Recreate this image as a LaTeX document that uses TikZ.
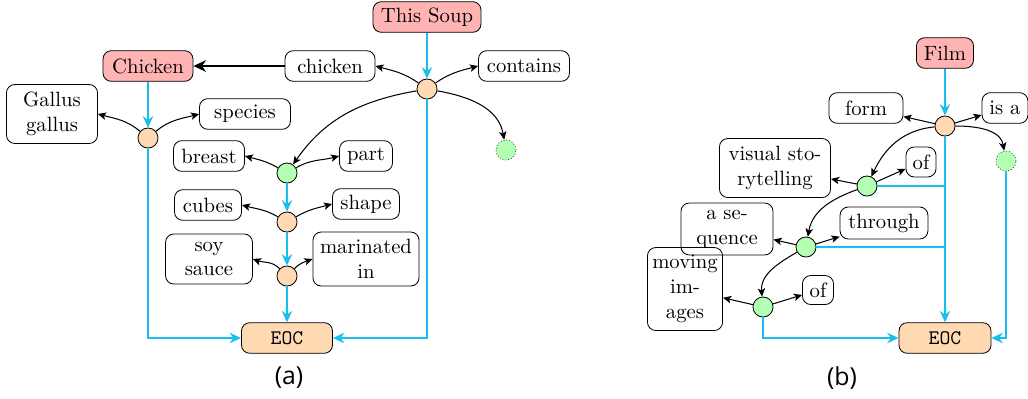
\documentclass[tikz,border=0pt]{standalone}
\usepackage{fontspec}
\newfontfamily\labelfont{Open Sans}
\usetikzlibrary{arrows.meta}
\definecolor{pinkc}{RGB}{255,179,179}
\definecolor{orangec}{RGB}{255,217,178}
\definecolor{greenc}{RGB}{179,255,179}
\definecolor{flowblue}{RGB}{25,190,240}
\tikzset{
  box/.style={draw, rounded corners=4pt, inner sep=1.5pt, align=center, minimum height=14.8pt},
  dot/.style={circle, draw, minimum size=9.7pt, inner sep=0pt},
  ghost/.style={circle, draw=black!75, densely dotted, fill=greenc, minimum size=9.7pt, inner sep=0pt},
  bl/.style={draw=flowblue, line width=1pt, -{Stealth[length=5.5pt,width=5pt,inset=1.8pt]}},
  bll/.style={draw=flowblue, line width=1pt},
  ar/.style={-{Stealth[length=4pt,width=3.6pt,inset=1pt]}, line width=0.5pt},
  sublabel/.style={font=\labelfont\large}
}
\begin{document}
\begin{tikzpicture}[x=0.4835pt,y=0.4835pt]
\useasboundingbox (0,0) rectangle (1028,-398);
% ---------- (a) ----------
\node[box, fill=pinkc, minimum width=52.2pt] (soup) at (427,-17) {This Soup};
\node[dot, fill=orangec] (c1) at (427,-89) {};
\node[box, minimum width=43.5pt] (chk) at (330,-66) {chicken};
\node[box, minimum width=44pt] (cont) at (524,-66) {contains};
\node[box, fill=pinkc, minimum width=43.5pt] (Chk) at (148,-66) {Chicken};
\node[ghost] (d1) at (506,-150) {};
\node[box, minimum width=44pt, minimum height=28.5pt] (gal) at (52,-114) {Gallus\\gallus};
\node[box, minimum width=44pt] (spc) at (245,-114) {species};
\node[dot, fill=orangec] (o1) at (148,-138) {};
\node[box, minimum width=34.3pt] (brs) at (209,-156) {breast};
\node[box, minimum width=25.6pt] (prt) at (366,-156) {part};
\node[dot, fill=greenc] (gr1) at (287,-173) {};
\node[box, minimum width=32.4pt] (cub) at (208,-205) {cubes};
\node[box, minimum width=32.4pt] (shp) at (366,-204) {shape};
\node[dot, fill=orangec] (o2) at (287,-222) {};
\node[box, minimum width=42pt, minimum height=24.2pt] (soy) at (209,-259) {soy\\sauce};
\node[box, minimum width=51.3pt, minimum height=26.1pt] (mar) at (366,-259) {marinated\\in};
\node[dot, fill=orangec] (o3) at (287,-276) {};
\node[box, fill=orangec, minimum width=44pt] (eoc) at (287,-338) {\texttt{EOC}};
\node[sublabel] (la) at (289,-378) {(a)};

\draw[bl] (soup) -- (c1);
\draw[bl] (c1) -- (c1 |- eoc) -- (eoc);
\draw[bl] (Chk) -- (o1);
\draw[bl] (o1) -- (o1 |- eoc) -- (eoc);
\draw[bl] (gr1) -- (o2);
\draw[bl] (o2) -- (o3);
\draw[bl] (o3) -- (eoc);

\draw[line width=1.1pt, -{Stealth[length=6pt,width=5.5pt,inset=1.8pt]}] (chk) -- (Chk);
\draw[ar] (c1) to[out=145,in=-15] (chk.east);
\draw[ar] (c1) to[out=35,in=195] (cont.west);
\draw[ar] (c1) to[out=-10,in=100] (d1);
\draw[ar] (c1) to[out=190,in=55] (gr1);
\draw[ar] (o1) to[out=140,in=-15] (gal.east);
\draw[ar] (o1) to[out=40,in=195] (spc.west);
\draw[ar] (gr1) to[out=150,in=-15] (brs.east);
\draw[ar] (gr1) to[out=30,in=195] (prt.west);
\draw[ar] (o2) to[out=150,in=-15] (cub.east);
\draw[ar] (o2) to[out=30,in=195] (shp.west);
\draw[ar] (o3) to[out=135,in=-20] (soy.east);
\draw[ar] (o3) to[out=45,in=200] (mar.west);

% ---------- (b) ----------
\node[box, fill=pinkc, minimum width=27.6pt] (film) at (945,-53) {Film};
\node[dot, fill=orangec] (o4) at (945,-126) {};
\node[box, minimum width=35.8pt] (form) at (866,-108) {form};
\node[box, minimum width=22.2pt] (isa) at (1005,-108) {is a};
\node[ghost] (d2) at (1006,-161) {};
\node[box, minimum width=53.7pt, minimum height=28.5pt] (vis) at (775,-168) {visual sto-\\rytelling};
\node[box, minimum width=14.5pt, minimum height=14.5pt] (of1) at (921,-162) {of};
\node[dot, fill=greenc] (gr2) at (867,-186) {};
\node[box, minimum width=44.5pt, minimum height=25.1pt] (aseq) at (727,-229) {a se-\\quence};
\node[box, minimum width=42.5pt, minimum height=15.5pt] (thr) at (884,-223) {through};
\node[dot, fill=greenc] (gr3) at (806,-247) {};
\node[box, inner sep=1pt, minimum width=36.3pt, minimum height=40.1pt] (mov) at (685,-289) {moving\\im-\\ages};
\node[box, minimum width=15pt, minimum height=14pt] (of2) at (818,-290) {of};
\node[dot, fill=greenc] (gr4) at (763,-307) {};
\node[box, fill=orangec, minimum width=44.5pt] (eoc2) at (945,-338) {\texttt{EOC}};
\node[sublabel] (lb) at (842,-378) {(b)};

\draw[bl] (film) -- (o4);
\draw[bl] (o4) -- (eoc2);
\draw[bll] (gr2) -- (gr2 -| o4);
\draw[bll] (gr3) -- (gr3 -| o4);
\draw[bl] (gr4) -- (gr4 |- eoc2) -- (eoc2);
\draw[bl] (d2) -- (d2 |- eoc2) -- (eoc2);

\draw[ar] (o4) -- (form);
\draw[ar] (o4) -- (isa);
\draw[ar] (o4) to[out=0,in=100] (d2);
\draw[ar] (o4) to[out=185,in=65] (gr2);
\draw[ar] (gr2) -- (vis);
\draw[ar] (gr2) -- (of1);
\draw[ar] (gr2) to[out=200,in=80] (gr3);
\draw[ar] (gr3) -- (aseq);
\draw[ar] (gr3) -- (thr);
\draw[ar] (gr3) to[out=210,in=95] (gr4);
\draw[ar] (gr4) -- (mov);
\draw[ar] (gr4) -- (of2);
\end{tikzpicture}
\end{document}
